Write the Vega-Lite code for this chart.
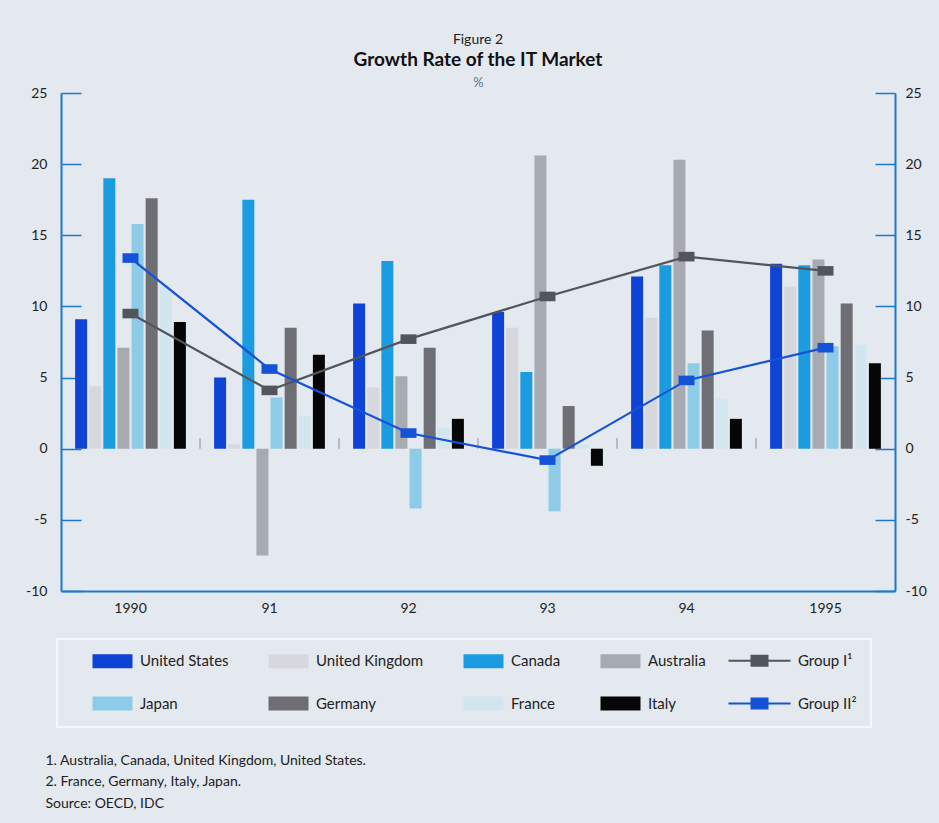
{
  "$schema": "https://vega.github.io/schema/vega-lite/v6.json",
  "width": 834,
  "height": 498,
  "autosize": {"type": "none"},
  "padding": {"left": 61, "top": 93, "right": 44, "bottom": 232},
  "background": "#e3e9ee",
  "title": {
    "text": "Figure 2",
    "subtitle": "Growth Rate of the IT Market",
    "fontSize": 14,
    "fontWeight": "normal",
    "color": "#222222",
    "subtitleFontSize": 19,
    "subtitleFontWeight": "bold",
    "subtitleColor": "#111111",
    "subtitlePadding": 4,
    "anchor": "middle",
    "offset": 6
  },
  "config": {
    "font": "Lato",
    "view": {"stroke": null},
    "axis": {"labelFont": "Lato", "titleFont": "Lato", "grid": false},
    "legend": {"labelFont": "Lato"}
  },
  "datasets": {
    "bars": [
      {"year": "1990", "series": "United States", "value": 9.1},
      {"year": "1990", "series": "United Kingdom", "value": 4.4},
      {"year": "1990", "series": "Canada", "value": 19.0},
      {"year": "1990", "series": "Australia", "value": 7.1},
      {"year": "1990", "series": "Japan", "value": 15.8},
      {"year": "1990", "series": "Germany", "value": 17.6},
      {"year": "1990", "series": "France", "value": 11.5},
      {"year": "1990", "series": "Italy", "value": 8.9},
      {"year": "91", "series": "United States", "value": 5.0},
      {"year": "91", "series": "United Kingdom", "value": 0.3},
      {"year": "91", "series": "Canada", "value": 17.5},
      {"year": "91", "series": "Australia", "value": -7.5},
      {"year": "91", "series": "Japan", "value": 3.6},
      {"year": "91", "series": "Germany", "value": 8.5},
      {"year": "91", "series": "France", "value": 2.3},
      {"year": "91", "series": "Italy", "value": 6.6},
      {"year": "92", "series": "United States", "value": 10.2},
      {"year": "92", "series": "United Kingdom", "value": 4.3},
      {"year": "92", "series": "Canada", "value": 13.2},
      {"year": "92", "series": "Australia", "value": 5.1},
      {"year": "92", "series": "Japan", "value": -4.2},
      {"year": "92", "series": "Germany", "value": 7.1},
      {"year": "92", "series": "France", "value": 1.5},
      {"year": "92", "series": "Italy", "value": 2.1},
      {"year": "93", "series": "United States", "value": 9.6},
      {"year": "93", "series": "United Kingdom", "value": 8.5},
      {"year": "93", "series": "Canada", "value": 5.4},
      {"year": "93", "series": "Australia", "value": 20.6},
      {"year": "93", "series": "Japan", "value": -4.4},
      {"year": "93", "series": "Germany", "value": 3.0},
      {"year": "93", "series": "France", "value": 0.3},
      {"year": "93", "series": "Italy", "value": -1.2},
      {"year": "94", "series": "United States", "value": 12.1},
      {"year": "94", "series": "United Kingdom", "value": 9.2},
      {"year": "94", "series": "Canada", "value": 12.9},
      {"year": "94", "series": "Australia", "value": 20.3},
      {"year": "94", "series": "Japan", "value": 6.0},
      {"year": "94", "series": "Germany", "value": 8.3},
      {"year": "94", "series": "France", "value": 3.5},
      {"year": "94", "series": "Italy", "value": 2.1},
      {"year": "1995", "series": "United States", "value": 13.0},
      {"year": "1995", "series": "United Kingdom", "value": 11.4},
      {"year": "1995", "series": "Canada", "value": 12.9},
      {"year": "1995", "series": "Australia", "value": 13.3},
      {"year": "1995", "series": "Japan", "value": 7.2},
      {"year": "1995", "series": "Germany", "value": 10.2},
      {"year": "1995", "series": "France", "value": 7.3},
      {"year": "1995", "series": "Italy", "value": 6.0}
    ],
    "groups": [
      {"year": "1990", "series": "Group I", "value": 9.5},
      {"year": "91", "series": "Group I", "value": 4.1},
      {"year": "92", "series": "Group I", "value": 7.7},
      {"year": "93", "series": "Group I", "value": 10.7},
      {"year": "94", "series": "Group I", "value": 13.5},
      {"year": "1995", "series": "Group I", "value": 12.5},
      {"year": "1990", "series": "Group II", "value": 13.4},
      {"year": "91", "series": "Group II", "value": 5.6},
      {"year": "92", "series": "Group II", "value": 1.1},
      {"year": "93", "series": "Group II", "value": -0.8},
      {"year": "94", "series": "Group II", "value": 4.8},
      {"year": "1995", "series": "Group II", "value": 7.1}
    ],
    "ticks": [
      {"year": "91"},
      {"year": "92"},
      {"year": "93"},
      {"year": "94"},
      {"year": "1995"}
    ]
  },
  "resolve": {"axis": {"x": "independent", "y": "independent"}},
  "layer": [
    {
      "data": {"name": "bars"},
      "mark": {"type": "bar"},
      "encoding": {
        "x": {
          "field": "year",
          "type": "nominal",
          "scale": {"domain": ["1990", "91", "92", "93", "94", "1995"], "paddingInner": 0, "paddingOuter": 0},
          "axis": {
            "orient": "bottom",
            "domainColor": "#1b78d0",
            "domainWidth": 2,
            "ticks": false,
            "labelAngle": 0,
            "labelPadding": 10,
            "labelFontSize": 14,
            "labelColor": "#222222",
            "title": ["1. Australia, Canada, United Kingdom, United States.", "2. France, Germany, Italy, Japan.", "Source: OECD, IDC"],
            "titleFontSize": 14,
            "titleFontWeight": "normal",
            "titleColor": "#222222",
            "titleAnchor": "start",
            "titleAlign": "left",
            "titleBaseline": "top",
            "titleLineHeight": 21.5,
            "titleX": -16,
            "titleY": 162
          }
        },
        "xOffset": {
          "field": "series",
          "type": "nominal",
          "scale": {
            "domain": ["United States", "United Kingdom", "Canada", "Australia", "Japan", "Germany", "France", "Italy"],
            "paddingInner": 0.15,
            "paddingOuter": 1.03
          }
        },
        "y": {
          "field": "value",
          "type": "quantitative",
          "scale": {"domain": [-10, 25], "nice": false, "zero": false},
          "axis": {
            "orient": "left",
            "values": [-10, -5, 0, 5, 10, 15, 20, 25],
            "labelExpr": "datum.value < 0 ? '-' + abs(datum.value) : datum.label",
            "tickSize": -20,
            "tickColor": "#1b78d0",
            "tickWidth": 1.5,
            "domainColor": "#1b78d0",
            "domainWidth": 2,
            "labelPadding": 34,
            "labelFontSize": 14,
            "labelColor": "#222222",
            "title": null
          }
        },
        "color": {
          "field": "series",
          "type": "nominal",
          "scale": {
            "domain": ["United States", "United Kingdom", "Canada", "Australia", "Group I", "Japan", "Germany", "France", "Italy", "Group II"],
            "range": ["#0f43d6", "#d7d8de", "#1c9ce0", "#a8aab1", "#52565c", "#8ecbe6", "#6e6f75", "#d2e6ef", "#060606", "#1652d8"]
          },
          "legend": {
            "orient": "none",
            "legendX": -4,
            "legendY": 546,
            "direction": "horizontal",
            "columns": 5,
            "title": null,
            "padding": 14,
            "strokeColor": "#f5f8fa",
            "symbolSize": 256,
            "labelOffset": 54,
            "labelFontSize": 15,
            "labelColor": "#222222",
            "columnPadding": 18,
            "rowPadding": 24,
            "labelExpr": "datum.value == 'Group I' ? 'Group I¹' : datum.value == 'Group II' ? 'Group II²' : datum.value",
            "encode": {
              "legend": {"update": {"strokeWidth": {"value": 2}}},
              "symbols": {
                "update": {
                  "shape": {"signal": "indexof(['Group I','Group II'], datum.value) >= 0 ? 'M-1,0H6.75M1.875,-0.625H3.875V0.625H1.875Z' : 'M1.75,-0.875H6.75V0.875H1.75Z'"},
                  "fill": {"scale": "color", "field": "value"},
                  "stroke": {"scale": "color", "field": "value"},
                  "strokeWidth": {"signal": "indexof(['Group I','Group II'], datum.value) >= 0 ? 2 : 0"},
                  "opacity": {"value": 1},
                  "fillOpacity": {"value": 1}
                }
              }
            }
          }
        }
      }
    },
    {
      "mark": {"type": "rule", "color": "#1b78d0", "strokeWidth": 2},
      "encoding": {"y": {"datum": 0, "type": "quantitative", "axis": null}}
    },
    {
      "data": {"name": "ticks"},
      "mark": {"type": "rule", "color": "#8a9096", "strokeWidth": 1},
      "encoding": {
        "x": {
          "field": "year",
          "type": "nominal",
          "bandPosition": 0,
          "axis": {
            "orient": "top",
            "labels": false,
            "ticks": false,
            "domain": false,
            "title": "%",
            "titleFontSize": 13,
            "titleFontWeight": "normal",
            "titleColor": "#5a7893",
            "titleBaseline": "middle",
            "titleY": -11
          }
        },
        "y": {"datum": 0, "type": "quantitative", "axis": null},
        "y2": {"datum": 0.75}
      }
    },
    {
      "data": {"name": "groups"},
      "mark": {"type": "line", "strokeWidth": 2.2},
      "encoding": {
        "x": {"field": "year", "type": "nominal", "axis": null},
        "y": {
          "field": "value",
          "type": "quantitative",
          "axis": {
            "orient": "right",
            "values": [-10, -5, 0, 5, 10, 15, 20, 25],
            "labelExpr": "datum.value < 0 ? '-' + abs(datum.value) : datum.label",
            "tickSize": -20,
            "tickColor": "#1b78d0",
            "tickWidth": 1.5,
            "domainColor": "#1b78d0",
            "domainWidth": 2,
            "labelPadding": 30,
            "labelFontSize": 14,
            "labelColor": "#222222",
            "title": null
          }
        },
        "color": {"field": "series", "type": "nominal"}
      }
    },
    {
      "data": {"name": "groups"},
      "mark": {"type": "point", "filled": true, "opacity": 1, "size": 256, "shape": "M-1,-0.6H1V0.6H-1Z"},
      "encoding": {
        "x": {"field": "year", "type": "nominal", "axis": null},
        "y": {"field": "value", "type": "quantitative", "axis": null},
        "color": {"field": "series", "type": "nominal"}
      }
    }
  ]
}
